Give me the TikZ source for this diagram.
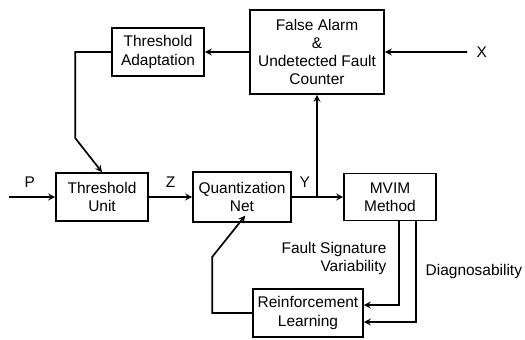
\documentclass[tikz,border=0pt]{standalone}
\usepackage{fontspec}
\setmainfont{Liberation Sans}
\usepackage{tikz}
\usetikzlibrary{shapes.geometric, arrows}
\tikzstyle{block} = [rectangle, minimum width=2.3cm, minimum
height=1.2cm, text centered, align=center, draw=black, very thick,
font=\fontsize{11}{13}\selectfont]
\tikzstyle{lbl} = [font=\fontsize{11}{13}\selectfont]
\tikzstyle{arrow} =
[very thick,->,>=stealth]

\begin{document}
\begin{tikzpicture}[node distance=3.5cm]
\useasboundingbox (0,0) rectangle (13.125,8.475);

\node(tu)[block] at (2.55,3.55) {Threshold\\Unit};
\node(qn)[block, right of=tu, minimum width=2.45cm, minimum height=1.25cm]{Quantization\\Net};
\node(mvim)[block, right of=qn, xshift=0.2cm, minimum height=1.175cm]{MVIM\\Method};
\node(ta)[block, above of=tu, xshift=1.4cm, yshift=0.125cm]{Threshold\\Adaptation};
\node(fa)[block, right of=ta, xshift=0.475cm, minimum width=3.35cm, minimum height=2.1cm]{False Alarm\\\&\\Undetected Fault\\Counter};
\node(rl)[block, below of=qn, xshift=1.65cm, yshift=0.6cm, minimum width=2.75cm]{Reinforcement\\Learning};

% free ends of the inputs
\coordinate(pin) at (0.225,3.55);
\coordinate(xin) at (11.675,7.175);
\coordinate(jn) at (qn.east -| fa.south);

\draw[arrow](pin) -- node[lbl, above=3pt, pos=0.45]{P} (tu);
\draw[arrow](tu) -- node[lbl, above=3pt]{Z} (qn);
\draw[arrow](qn) -- node[lbl, above=3pt, pos=0.25]{Y} (mvim);
\draw[arrow](jn) -- (fa);
\draw[arrow](xin) node[lbl, right=3pt]{X} -- (fa);
\draw[arrow](fa) -- (ta);
\draw[arrow](ta.west) -- ++(-0.9,0) -- ++(0,-2.15) -- (tu.north);
\draw[arrow](rl.west) -- ++(-1.0,0) -- ++(0,1.4) --
([xshift=0.08cm, yshift=0.18cm]qn.south);
\draw[arrow]([xshift=0.225cm]mvim.south) |- node[lbl, left=5pt, pos=0.22,
align=right]{Fault Signature\\Variability} ([yshift=0.2cm]rl.east);
\draw[arrow]([xshift=0.65cm]mvim.south) |- node[lbl, right=3pt,
pos=0.25]{Diagnosability} ([yshift=-0.225cm]rl.east);

\end{tikzpicture}
\end{document}
